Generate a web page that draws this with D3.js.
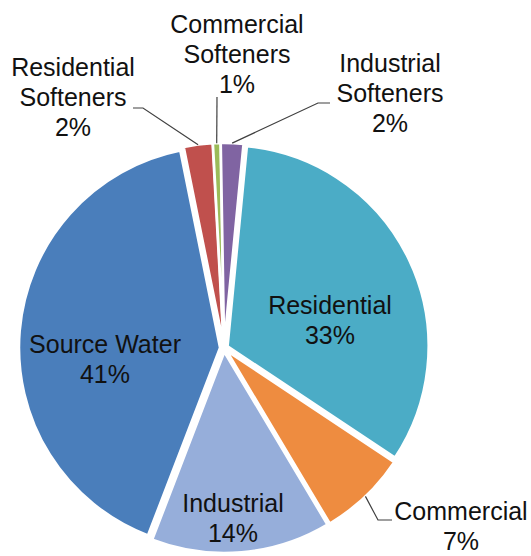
<!DOCTYPE html>
<html>
<head>
<meta charset="utf-8">
<script src="https://cdn.jsdelivr.net/npm/d3@7/dist/d3.min.js"></script>
<style>
  html, body { margin: 0; padding: 0; background: #fff; }
  svg { display: block; }
  text { font-family: "Liberation Sans", Arial, sans-serif; font-size: 25px; fill: #111; }
</style>
</head>
<body>
<svg id="chart" width="531" height="556"></svg>
<script>
// Water use shares (percent), in series order
const categories = ["Source Water", "Residential Softeners", "Commercial Softeners",
                    "Industrial Softeners", "Residential", "Commercial", "Industrial"];
const values = [41.0, 2.3, 0.6, 1.8, 32.8, 7.1, 14.4];
const colors = ["#4A7EBB", "#C0504D", "#9BBB59", "#8064A2", "#4BACC6", "#EE8C40", "#96AEDA"];

// Label placement: text block position (first baseline), and optional leader elbow/end
const labelLayout = {
  "Source Water":          { x: 105, y: 353, lines: ["Source Water"] },
  "Residential Softeners": { x: 73,  y: 76,  lines: ["Residential", "Softeners"], elbow: [143, 108], end: [133, 108] },
  "Commercial Softeners":  { x: 237, y: 33,  lines: ["Commercial", "Softeners"], elbow: null, end: [217, 97] },
  "Industrial Softeners":  { x: 390, y: 72,  lines: ["Industrial", "Softeners"], elbow: [318, 103], end: [330, 103] },
  "Residential":           { x: 330, y: 314, lines: ["Residential"] },
  "Commercial":            { x: 461, y: 520, lines: ["Commercial"], elbow: [378, 520], end: [392, 520] },
  "Industrial":            { x: 233, y: 512, lines: ["Industrial"] }
};

const cx = 224, cy = 348, radius = 201, explode = 4, lineH = 30;
const startDeg = 201;

const svg = d3.select("#chart");
const g = svg.append("g").attr("transform", `translate(${cx},${cy})`);

const total = d3.sum(values);
const data = categories.map((c, i) => ({ name: c, value: values[i], color: colors[i] }));

const pie = d3.pie()
  .value(d => d.value)
  .sort(null)
  .startAngle(startDeg * Math.PI / 180)
  .endAngle(startDeg * Math.PI / 180 + 2 * Math.PI);

const arcs = pie(data);
const arc = d3.arc().innerRadius(0).outerRadius(radius);

const offsetOf = d => {
  const a = (d.startAngle + d.endAngle) / 2;
  return [Math.sin(a) * explode, -Math.cos(a) * explode];
};

g.selectAll("path.slice")
  .data(arcs)
  .join("path")
  .attr("class", "slice")
  .attr("d", arc)
  .attr("transform", d => { const [ox, oy] = offsetOf(d); return `translate(${ox},${oy})`; })
  .attr("fill", d => d.data.color)
  .attr("stroke", "#fff")
  .attr("stroke-width", 2.5)
  .attr("stroke-linejoin", "round");

// Leader lines from the slice rim to outside labels
const rim = d3.arc().innerRadius(radius + explode).outerRadius(radius + explode);
const leaders = arcs.filter(d => labelLayout[d.data.name].end);
svg.selectAll("path.leader")
  .data(leaders)
  .join("path")
  .attr("class", "leader")
  .attr("fill", "none")
  .attr("stroke", "#404040")
  .attr("stroke-width", 1.2)
  .attr("d", d => {
    const [px, py] = rim.centroid(d);
    const L = labelLayout[d.data.name];
    const pts = [[cx + px, cy + py]];
    if (L.elbow) pts.push(L.elbow);
    pts.push(L.end);
    return d3.line()(pts);
  });

// Category name and rounded percentage
const labels = svg.selectAll("text.label")
  .data(arcs)
  .join("text")
  .attr("class", "label")
  .attr("text-anchor", "middle")
  .attr("x", d => labelLayout[d.data.name].x)
  .attr("y", d => labelLayout[d.data.name].y);

labels.each(function(d) {
  const L = labelLayout[d.data.name];
  const t = d3.select(this);
  const rows = L.lines.concat([Math.round(d.data.value / total * 100) + "%"]);
  rows.forEach((r, i) => {
    t.append("tspan").attr("x", L.x).attr("y", L.y + i * lineH).text(r);
  });
});
</script>
</body>
</html>
